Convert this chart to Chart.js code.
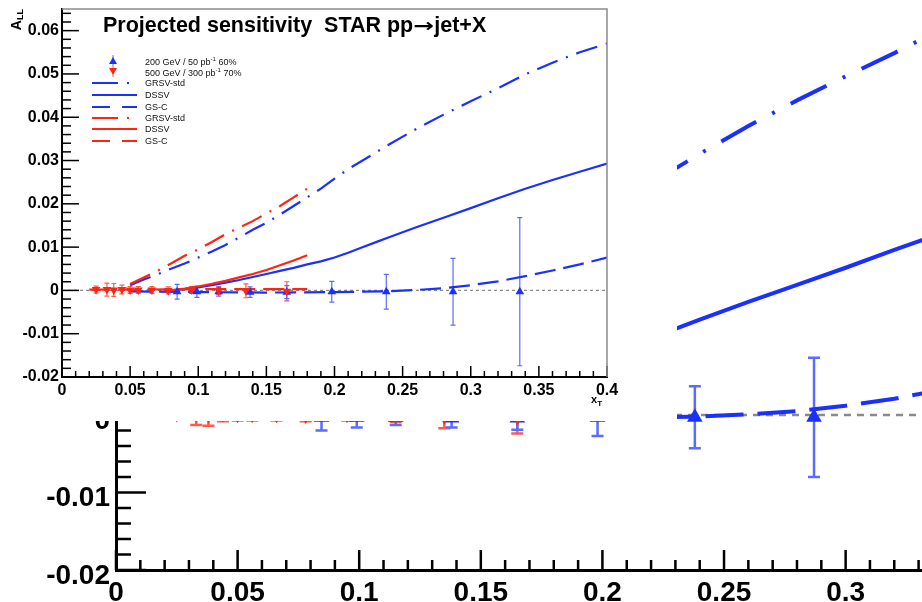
<!DOCTYPE html>
<html>
<head>
<meta charset="utf-8">
<script src="https://cdn.jsdelivr.net/npm/chart.js@4.4.1/dist/chart.umd.min.js"></script>
<style>
  html, body { margin: 0; padding: 0; background: #fff; }
  #wrap { position: relative; width: 922px; height: 602px; overflow: hidden; background: #fff; font-family: "Liberation Sans", Arial, sans-serif; }
  canvas { position: absolute; left: 0; top: 0; }
  #cover { position: absolute; left: 0; top: 0; width: 677px; height: 421px; background: #fff; }
  .txt { position: absolute; white-space: pre; color: #000; }
  .leg { position: absolute; left: 145px; font-size: 9px; line-height: 1; transform: translateY(-50%); color: #111; white-space: pre; }
  .arr { display: inline-block; width: 21px; text-align: center; font-family: 'DejaVu Sans'; font-size: 19px; transform: scaleX(1.3); }
</style>
</head>
<body>
<div id="wrap">
  <canvas id="bg" width="922" height="602"></canvas>
  <div id="cover"></div>
  <canvas id="inset" width="620" height="418"></canvas>
  <div class="txt" style="left:103px;top:15px;font-size:21.5px;font-weight:bold;line-height:21px;">Projected sensitivity  STAR pp<span class="arr">→</span>jet+X</div>
  <div class="txt" style="left:9px;top:9px;font-size:14px;font-weight:bold;line-height:14px;writing-mode:vertical-rl;transform:rotate(180deg);">A<sub style="font-size:9px">LL</sub></div>
  <div class="txt" style="left:591px;top:394px;font-size:11px;font-weight:bold;line-height:11px;">x<sub style="font-size:8px">T</sub></div>
  <div class="leg" style="top:61px">200 GeV / 50 pb<sup style="font-size:6px">-1</sup> 60%</div>
  <div class="leg" style="top:72px">500 GeV / 300 pb<sup style="font-size:6px">-1</sup> 70%</div>
  <div class="leg" style="top:83px">GRSV-std</div>
  <div class="leg" style="top:95px">DSSV</div>
  <div class="leg" style="top:107px">GS-C</div>
  <div class="leg" style="top:118px">GRSV-std</div>
  <div class="leg" style="top:129px">DSSV</div>
  <div class="leg" style="top:141px">GS-C</div>
</div>
<script>
// ---------------- data ----------------
const x200 = [0.0845, 0.099, 0.115, 0.138, 0.165, 0.198, 0.238, 0.287, 0.336];
const y200 = [-0.0003, -0.0003, -0.0003, -0.0004, -0.0004, -0.0003, -0.0003, -0.0003, -0.0003];
const e200 = [0.0017, 0.0013, 0.0010, 0.0012, 0.0015, 0.0024, 0.0040, 0.0077, 0.0171];

const x500 = [0.025, 0.033, 0.038, 0.044, 0.050, 0.056, 0.066, 0.078, 0.095, 0.115, 0.135, 0.165];
const y500 = [0.0002, 0.0002, 0.0001, 0.0002, 0.0001, 0.0001, 0.0001, 0.0, 0.0001, 0.0, -0.0001, -0.0002];
const e500 = [0.0008, 0.0015, 0.0015, 0.0010, 0.0008, 0.0008, 0.0008, 0.0008, 0.0008, 0.0009, 0.0016, 0.0022];

const xGrsv200 = [0.05, 0.06, 0.07, 0.08, 0.09, 0.10, 0.11, 0.12, 0.13, 0.14, 0.15, 0.16, 0.17, 0.18, 0.19, 0.20, 0.21, 0.22, 0.24, 0.26, 0.28, 0.30, 0.32, 0.34, 0.36, 0.38, 0.40];
const yGrsv200 = [0.0012, 0.0025, 0.0037, 0.0050, 0.0062, 0.0076, 0.0090, 0.0105, 0.0122, 0.0140, 0.0156, 0.0175, 0.0195, 0.0215, 0.0235, 0.0258, 0.0280, 0.0299, 0.0337, 0.0373, 0.0406, 0.0437, 0.0467, 0.0499, 0.0526, 0.0550, 0.0570];

const xDssv200 = [0.08, 0.09, 0.10, 0.11, 0.12, 0.13, 0.14, 0.15, 0.16, 0.17, 0.18, 0.19, 0.20, 0.21, 0.22, 0.23, 0.24, 0.26, 0.28, 0.30, 0.32, 0.34, 0.36, 0.38, 0.40];
const yDssv200 = [0.0, 0.0003, 0.0007, 0.0012, 0.0018, 0.0024, 0.0031, 0.0038, 0.0045, 0.0052, 0.0060, 0.0067, 0.0076, 0.0087, 0.0099, 0.0111, 0.0123, 0.0146, 0.0168, 0.0190, 0.0213, 0.0235, 0.0255, 0.0274, 0.0293];

const xGsc200 = [0.05, 0.10, 0.15, 0.20, 0.24, 0.26, 0.28, 0.30, 0.32, 0.34, 0.36, 0.38, 0.40];
const yGsc200 = [-0.0002, -0.0004, -0.0005, -0.0004, -0.0002, 0.0001, 0.0005, 0.0012, 0.0021, 0.0033, 0.0046, 0.0060, 0.0076];

const xGrsv500 = [0.05, 0.06, 0.07, 0.08, 0.09, 0.10, 0.11, 0.12, 0.13, 0.14, 0.15, 0.16, 0.17, 0.18];
const yGrsv500 = [0.0015, 0.0030, 0.0045, 0.0062, 0.0080, 0.0095, 0.0112, 0.0130, 0.0145, 0.0160, 0.0178, 0.0195, 0.0215, 0.0235];

const xDssv500 = [0.08, 0.09, 0.10, 0.11, 0.12, 0.13, 0.14, 0.15, 0.16, 0.17, 0.18];
const yDssv500 = [0.0, 0.0004, 0.0009, 0.0015, 0.0022, 0.0030, 0.0038, 0.0047, 0.0058, 0.0069, 0.0081];

const xGsc500 = [0.02, 0.06, 0.10, 0.14, 0.18];
const yGsc500 = [0.0002, 0.0002, 0.0003, 0.0003, 0.0003];

const xZero = [0, 0.4];
const yZero = [0, 0];

const legendLabels = ['200 GeV / 50 pb-1 60%', '500 GeV / 300 pb-1 70%', 'GRSV-std', 'DSSV', 'GS-C', 'GRSV-std', 'DSSV', 'GS-C'];

// ---------------- helpers ----------------
const BLUE = '#1a30ff', RED = '#ff2410', BLUE_ERR = '#5a6cff', RED_ERR = '#ff5a4a';
const fmt = v => String(Math.round(v * 1000) / 1000);
const pts = (xs, ys) => xs.map((x, i) => ({ x: x, y: ys[i] }));

function lineDs(xs, ys, color, dash, lw) {
  return { data: pts(xs, ys), showLine: true, pointRadius: 0, pointHoverRadius: 0, borderColor: color,
           backgroundColor: color, borderWidth: lw, borderDash: dash, tension: 0, fill: false };
}
function pointDs(xs, ys, es, color, errColor, rot, r) {
  return { data: pts(xs, ys), errorBars: es, errColor: errColor, showLine: false, pointStyle: 'triangle',
           rotation: rot, pointRadius: r, pointHoverRadius: r, backgroundColor: color, borderColor: color, pointBorderWidth: 0 };
}
function makeDatasets(s) {
  return [
    pointDs(x500, y500, e500, RED, RED_ERR, 180, s.mr),
    pointDs(x200, y200, e200, BLUE, BLUE_ERR, 0, s.mr),
    lineDs(xGrsv500, yGrsv500, RED, s.dashDot, s.lw),
    lineDs(xDssv500, yDssv500, RED, [], s.lw),
    lineDs(xGsc500, yGsc500, RED, s.dash, s.lw),
    lineDs(xGrsv200, yGrsv200, BLUE, s.dashDot, s.lw),
    lineDs(xDssv200, yDssv200, BLUE, [], s.lw),
    lineDs(xGsc200, yGsc200, BLUE, s.dash, s.lw),
    lineDs(xZero, yZero, '#8a8a8a', s.zeroDash, s.zw)
  ];
}

const errorBarPlugin = {
  id: 'errorBars',
  beforeDatasetsDraw(chart, args, o) {
    const { ctx, chartArea: ca, scales: { x, y } } = chart;
    ctx.save();
    ctx.beginPath(); ctx.rect(ca.left, ca.top, ca.right - ca.left, ca.bottom - ca.top); ctx.clip();
    chart.data.datasets.forEach(ds => {
      if (!ds.errorBars) return;
      ctx.strokeStyle = ds.errColor; ctx.lineWidth = o.width;
      ds.data.forEach((p, i) => {
        const e = ds.errorBars[i];
        const px = x.getPixelForValue(p.x);
        const t = y.getPixelForValue(p.y + e), b = y.getPixelForValue(p.y - e);
        ctx.beginPath();
        ctx.moveTo(px, t); ctx.lineTo(px, b);
        ctx.moveTo(px - o.cap, t); ctx.lineTo(px + o.cap, t);
        ctx.moveTo(px - o.cap, b); ctx.lineTo(px + o.cap, b);
        ctx.stroke();
      });
    });
    ctx.restore();
  }
};

const rootTicksPlugin = {
  id: 'rootTicks',
  afterDatasetsDraw(chart, args, o) {
    const { ctx, chartArea: ca, scales: { x, y } } = chart;
    ctx.save();
    ctx.strokeStyle = '#000'; ctx.lineWidth = o.width;
    let k0 = Math.ceil(x.min / o.xMinor - 1e-6), k1 = Math.floor(x.max / o.xMinor + 1e-6);
    let ratio = Math.round(o.xMajor / o.xMinor);
    for (let k = k0; k <= k1; k++) {
      const px = x.getPixelForValue(k * o.xMinor);
      const L = (k % ratio === 0) ? o.xMajLen : o.xMinLen;
      ctx.beginPath(); ctx.moveTo(px, ca.bottom); ctx.lineTo(px, ca.bottom - L); ctx.stroke();
    }
    k0 = Math.ceil(y.min / o.yMinor - 1e-6); k1 = Math.floor(y.max / o.yMinor + 1e-6);
    ratio = Math.round(o.yMajor / o.yMinor);
    for (let k = k0; k <= k1; k++) {
      const py = y.getPixelForValue(k * o.yMinor);
      const L = (k % ratio === 0) ? o.yMajLen : o.yMinLen;
      ctx.beginPath(); ctx.moveTo(ca.left, py); ctx.lineTo(ca.left + L, py); ctx.stroke();
    }
    if (o.frame) {
      ctx.strokeStyle = o.frame; ctx.lineWidth = o.frameWidth;
      ctx.beginPath(); ctx.moveTo(ca.left, ca.top); ctx.lineTo(ca.right, ca.top); ctx.lineTo(ca.right, ca.bottom); ctx.stroke();
    }
    ctx.restore();
  }
};

const insetLegendPlugin = {
  id: 'insetLegend',
  afterDraw(chart) {
    const ctx = chart.ctx;
    ctx.save();
    ctx.strokeStyle = BLUE_ERR; ctx.lineWidth = 1;
    ctx.beginPath(); ctx.moveTo(113, 55); ctx.lineTo(113, 66); ctx.stroke();
    ctx.fillStyle = BLUE;
    ctx.beginPath(); ctx.moveTo(113, 57); ctx.lineTo(117, 64); ctx.lineTo(109, 64); ctx.closePath(); ctx.fill();
    ctx.strokeStyle = RED_ERR;
    ctx.beginPath(); ctx.moveTo(113, 66); ctx.lineTo(113, 77); ctx.stroke();
    ctx.fillStyle = RED;
    ctx.beginPath(); ctx.moveTo(109, 68); ctx.lineTo(117, 68); ctx.lineTo(113, 75); ctx.closePath(); ctx.fill();
    const rows = [[83, BLUE, [26, 9, 2, 9]], [95, BLUE, []], [107, BLUE, [18, 12]],
                  [118, RED, [26, 9, 2, 9]], [129, RED, []], [141, RED, [18, 12]]];
    ctx.lineWidth = 2;
    rows.forEach(r => {
      ctx.strokeStyle = r[1]; ctx.setLineDash(r[2]);
      ctx.beginPath(); ctx.moveTo(92, r[0]); ctx.lineTo(137, r[0]); ctx.stroke();
    });
    ctx.restore();
  }
};

function axisCommon(min, max, step, fontSize, pad, labelOffset) {
  return {
    type: 'linear', min: min, max: max,
    grid: { display: false, drawTicks: false },
    ticks: { stepSize: step, includeBounds: false, autoSkip: false, maxRotation: 0, minRotation: 0,
             color: '#000', padding: pad, labelOffset: labelOffset || 0,
             font: { family: 'Liberation Sans', size: fontSize, weight: 'bold' }, callback: v => fmt(v) }
  };
}

// ---------------- background (magnified) chart ----------------
const bgX = axisCommon(0, 0.3314, 0.05, 28, 6);
bgX.border = { display: true, color: '#000', width: 3 };
bgX.afterFit = s => { s.height = 32; s.paddingLeft = 0; s.paddingRight = 0; };
const bgY = axisCommon(-0.02, 0.05355, 0.01, 28, 6, 6);
bgY.border = { display: true, color: '#000', width: 3 };
bgY.afterFit = s => { s.width = 116; s.paddingTop = 0; s.paddingBottom = 0; };

new Chart(document.getElementById('bg'), {
  type: 'scatter',
  data: { datasets: makeDatasets({ mr: 9, lw: 4, dashDot: [40, 18, 3, 18], dash: [38, 14], zeroDash: [7, 6], zw: 2.5 }) },
  options: {
    responsive: false, animation: false, devicePixelRatio: 1,
    layout: { padding: 0, autoPadding: false },
    events: [],
    plugins: { legend: { display: false }, tooltip: { enabled: false },
               errorBars: { width: 2.5, cap: 6 },
               rootTicks: { width: 2.5, xMajor: 0.05, xMinor: 0.01, xMajLen: 20, xMinLen: 10,
                            yMajor: 0.01, yMinor: 0.002, yMajLen: 30, yMinLen: 15 } },
    scales: { x: bgX, y: bgY }
  },
  plugins: [errorBarPlugin, rootTicksPlugin]
});

// ---------------- inset chart ----------------
const inX = axisCommon(0, 0.4, 0.05, 16, 4);
inX.border = { display: true, color: '#000', width: 2 };
inX.afterFit = s => { s.height = 41; s.paddingLeft = 0; s.paddingRight = 0; };
const inY = axisCommon(-0.02, 0.065, 0.01, 16, 3, 0);
inY.border = { display: true, color: '#000', width: 2 };
inY.afterFit = s => { s.width = 62; s.paddingTop = 0; s.paddingBottom = 0; };

new Chart(document.getElementById('inset'), {
  type: 'scatter',
  data: { datasets: makeDatasets({ mr: 5, lw: 2.2, dashDot: [22, 9, 2, 9], dash: [21, 8], zeroDash: [3, 3], zw: 1.3 }) },
  options: {
    responsive: false, animation: false, devicePixelRatio: 1,
    layout: { padding: { top: 9, right: 13, left: 0, bottom: 0 }, autoPadding: false },
    events: [],
    plugins: { legend: { display: false }, tooltip: { enabled: false },
               errorBars: { width: 1.2, cap: 2.5 },
               rootTicks: { width: 1.5, xMajor: 0.05, xMinor: 0.01, xMajLen: 11, xMinLen: 6,
                            yMajor: 0.01, yMinor: 0.002, yMajLen: 17, yMinLen: 9,
                            frame: '#8a8a8a', frameWidth: 1.5 } },
    scales: { x: inX, y: inY }
  },
  plugins: [errorBarPlugin, rootTicksPlugin, insetLegendPlugin]
});
</script>
</body>
</html>
